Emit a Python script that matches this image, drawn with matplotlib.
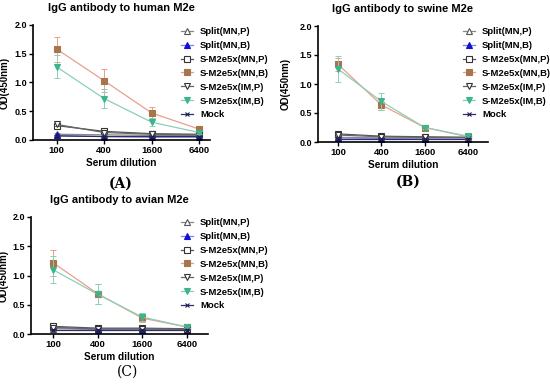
import matplotlib
matplotlib.use("Agg")
import matplotlib.pyplot as plt
import numpy as np

plt.rcParams['font.family'] = ['Liberation Sans', 'DejaVu Sans']

# x categories
dilutions = ["100", "400", "1600", "6400"]
series_names = ["Split(MN,P)", "Split(MN,B)", "S-M2e5x(MN,P)", "S-M2e5x(MN,B)",
                "S-M2e5x(IM,P)", "S-M2e5x(IM,B)", "Mock"]

# OD values, one list per group (same order as series_names)
human_vals = [[0.10, 0.09, 0.08, 0.08],
              [0.08, 0.06, 0.05, 0.05],
              [0.25, 0.15, 0.11, 0.10],
              [1.58, 1.03, 0.47, 0.19],
              [0.27, 0.13, 0.10, 0.09],
              [1.27, 0.72, 0.31, 0.13],
              [0.07, 0.06, 0.06, 0.06]]
human_err = [[0.02, 0.01, 0.01, 0.01],
             [0.01, 0.01, 0.01, 0.01],
             [0.03, 0.02, 0.01, 0.01],
             [0.22, 0.20, 0.11, 0.03],
             [0.03, 0.02, 0.01, 0.01],
             [0.20, 0.16, 0.07, 0.03],
             [0.01, 0.01, 0.01, 0.01]]

swine_vals = [[0.08, 0.07, 0.07, 0.07],
              [0.07, 0.06, 0.05, 0.05],
              [0.14, 0.10, 0.09, 0.08],
              [1.34, 0.64, 0.25, 0.09],
              [0.12, 0.09, 0.08, 0.08],
              [1.26, 0.70, 0.25, 0.10],
              [0.06, 0.06, 0.06, 0.06]]
swine_err = [[0.01, 0.01, 0.01, 0.01],
             [0.01, 0.01, 0.01, 0.01],
             [0.02, 0.01, 0.01, 0.01],
             [0.11, 0.09, 0.03, 0.02],
             [0.02, 0.01, 0.01, 0.01],
             [0.22, 0.15, 0.03, 0.02],
             [0.01, 0.01, 0.01, 0.01]]

avian_vals = [[0.09, 0.08, 0.08, 0.07],
              [0.12, 0.07, 0.07, 0.07],
              [0.13, 0.10, 0.10, 0.09],
              [1.22, 0.69, 0.27, 0.12],
              [0.11, 0.09, 0.09, 0.08],
              [1.10, 0.68, 0.29, 0.12],
              [0.07, 0.07, 0.07, 0.07]]
avian_err = [[0.01, 0.01, 0.01, 0.01],
             [0.02, 0.01, 0.01, 0.01],
             [0.02, 0.01, 0.01, 0.01],
             [0.22, 0.17, 0.07, 0.02],
             [0.02, 0.01, 0.01, 0.01],
             [0.23, 0.17, 0.07, 0.02],
             [0.01, 0.01, 0.01, 0.01]]

# styles: marker, marker face, marker edge, line colour
styles = [("^", "white", "#555555", "#888888"),
          ("^", "#1010d8", "#1010d8", "#8080e8"),
          ("s", "white", "#333333", "#555555"),
          ("s", "#a8744c", "#a8744c", "#e8a08c"),
          ("v", "white", "#333333", "#666666"),
          ("v", "#3cb48c", "#3cb48c", "#8ccfb8"),
          ("x", "#1a1a5a", "#1a1a5a", "#303060")]

W, H = 550, 386
fig = plt.figure(figsize=(5.5, 3.86), dpi=100)


def box(l, t, r, b):
    return [l / W, 1 - b / H, (r - l) / W, (b - t) / H]


def panel(rect, xlim, vals, errs, title, tag, tag_xy, leg_xy, ylab_x, tag_weight):
    ax = fig.add_axes(box(*rect))
    x = np.arange(len(dilutions))
    for i in range(len(series_names)):
        m, fc, ec, lc = styles[i]
        ax.errorbar(x, vals[i], yerr=errs[i], fmt="none",
                    ecolor=lc, elinewidth=0.7, capsize=2.5, capthick=0.7)
        ax.plot(x, vals[i], color=lc, lw=0.9,
                marker=m, ms=4.5 if m != "x" else 3.5,
                mfc=fc, mec=ec, mew=0.8, label=series_names[i])
    ax.set_xlim(*xlim)
    ax.set_ylim(0, 2.0)
    ax.set_xticks(x)
    ax.set_xticklabels(dilutions, fontsize=6.8, fontweight="bold")
    ax.set_yticks([0, 0.5, 1.0, 1.5, 2.0])
    ax.set_yticklabels(["0.0", "0.5", "1.0", "1.5", "2.0"], fontsize=6.5,
                       fontweight="bold")
    for s in ["top", "right"]:
        ax.spines[s].set_visible(False)
    for s in ["left", "bottom"]:
        ax.spines[s].set_linewidth(1.2)
    ax.tick_params(width=1.0, length=3, pad=1.2)
    ax.set_xlabel("Serum dilution", fontsize=7.2, fontweight="bold", labelpad=2)
    ax.set_ylabel("OD(450nm)", fontsize=7, fontweight="bold")
    ax.yaxis.set_label_coords(ylab_x / W, 1 - (rect[1] + rect[3]) / 2 / H,
                              transform=fig.transFigure)
    ax.set_title(title, fontsize=8, fontweight="bold", pad=10)
    ax.legend(loc="upper left", bbox_to_anchor=(leg_xy[0] / W, 1 - leg_xy[1] / H),
              bbox_transform=fig.transFigure, frameon=False,
              prop={"weight": "bold", "size": 6.8},
              handlelength=1.3, handletextpad=0.7, labelspacing=0.52,
              borderpad=0, borderaxespad=0)
    fig.text(tag_xy[0] / W, 1 - tag_xy[1] / H, tag, family="DejaVu Serif",
             fontsize=10, fontweight=tag_weight, ha="center", va="center")
    return ax


panel((33, 25, 210, 140), (-0.5, 3.23), human_vals, human_err,
      "IgG antibody to human M2e", "(A)", (121, 184), (181, 27), 10, "bold")
panel((318, 26, 488, 142), (-0.46, 3.46), swine_vals, swine_err,
      "IgG antibody to swine M2e", "(B)", (408, 182), (463, 27), 291, "bold")
panel((31, 217, 208, 334), (-0.49, 3.47), avian_vals, avian_err,
      "IgG antibody to avian M2e", "(C)", (128, 372), (181, 218), 9, "normal")

fig.savefig("out.png", dpi=100)
